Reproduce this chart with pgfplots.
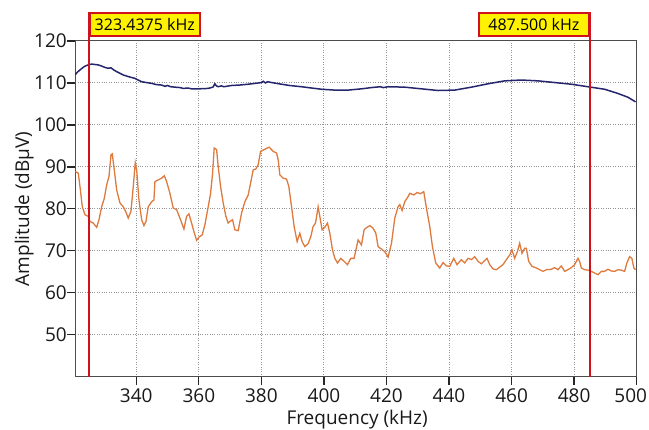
\documentclass[border=0pt]{standalone}
\usepackage{pgfplots}
\pgfplotsset{compat=1.18}
\usepackage{fontspec}
\setmainfont{Open Sans}
\definecolor{navy}{RGB}{38,38,110}
\definecolor{orng}{RGB}{222,122,62}
\definecolor{mkred}{RGB}{208,18,28}
\begin{document}
\begin{tikzpicture}
\useasboundingbox (-75.3pt,-53.3pt) rectangle (573.7pt,376.7pt);
\begin{axis}[
  at={(0,0)}, anchor=south west,
  scale only axis, width=561.4pt, height=335.7pt,
  xmin=320.5, xmax=500, ymin=40, ymax=120,
  xtick={340,360,...,500}, ytick={50,60,...,120},
  xticklabels={340,360,380,400,420,440,460,480,500\hspace*{12pt}},
  tick pos=left,
  grid=major,
  major grid style={dotted, black!42, line width=1pt},
  axis line style={black!70, line width=1pt},
  tick style={black!85, line width=1.3pt},
  tick align=outside, major tick length=8pt,
  /pgf/number format/assume math mode=true,
  ticklabel style={font=\fontsize{19}{22}\selectfont, text=black!90},
  yticklabel style={xshift=3pt},
  label style={font=\fontsize{19}{22}\selectfont, text=black!90},
  xlabel={Frequency (kHz)},
  ylabel={Amplitude (dBµV)},
  xlabel style={at={(axis description cs:0.502,-0.143)}, anchor=base},
  ylabel style={at={(axis description cs:-0.091,0.5)}, anchor=center},
  clip=false,
]
\addplot[navy, line width=1.5pt] coordinates {
(320.5,112.0) (321.2,112.6) (322.0,113.1) (323.0,113.7) (323.6,114.0) (324.6,114.3)
(325.74,114.5) (326.8,114.4) (327.85,114.3) (329.0,114.0) (329.99,113.7) (331.0,113.5)
(331.91,113.6) (332.8,113.1) (333.73,112.7) (335.84,111.9) (337.98,111.4) (339.57,111.1)
(340.3,110.8) (341.72,110.3) (343.2,110.1) (344.91,109.9) (346.5,109.6) (348.1,109.5)
(349.2,109.2) (350.0,109.4) (351.0,109.1) (352.35,109.0) (354.0,108.9) (355.0,108.7)
(356.5,108.8) (357.69,108.6) (360.0,108.6) (363.0,108.7) (364.5,109.0) (365.13,109.8)
(365.6,109.3) (366.19,109.1) (367.2,109.3) (368.0,109.1) (370.47,109.4) (373.0,109.5)
(375.77,109.7) (378.0,109.9) (380.06,110.1) (380.6,110.4) (381.3,110.0) (382.0,110.3)
(383.25,110.1) (386.45,109.7) (389.0,109.4) (392.83,109.1) (396.0,108.8) (399.23,108.5)
(403.47,108.3) (407.72,108.3) (412.0,108.6) (415.2,108.9) (418.0,109.1) (419.0,108.9)
(420.5,109.1) (425.84,109.0) (431.17,108.6) (436.48,108.2) (441.81,108.3) (447.15,109.0)
(452.45,109.8) (457.79,110.5) (463.12,110.7) (468.43,110.5) (473.76,110.1) (479.1,109.7)
(484.4,109.1) (489.74,108.5) (493.99,107.5) (497.18,106.6) (499.64,105.5)
};
\addplot[orng, line width=1.3pt] coordinates {
(320.5,88.9) (321.46,88.5) (322.0,85.3) (322.74,80.5) (323.6,78.6) (324.65,78.2)
(325.2,77.0) (326.25,76.6) (327.34,75.6) (328.07,77.4) (328.93,80.5) (329.77,82.5)
(330.53,85.7) (331.27,87.7) (331.91,92.9) (332.32,93.1) (332.96,89.3) (333.73,84.5)
(334.78,81.4) (335.84,80.5) (336.6,79.4) (337.43,77.8) (338.3,79.4) (339.03,85.3)
(339.67,91.0) (340.12,89.3) (340.85,82.1) (341.72,77.4) (342.45,76.0) (343.09,77.0)
(343.82,80.5) (344.91,81.7) (345.64,82.1) (345.96,86.5) (347.02,86.9) (348.1,87.3)
(348.94,87.9) (349.7,86.5) (350.76,83.7) (351.81,80.2) (352.9,79.8) (353.95,77.8)
(355.23,75.2) (356.09,78.2) (356.83,78.8) (357.69,76.6) (358.42,74.6) (359.29,72.5)
(360.12,73.3) (361.08,73.8) (361.94,76.2) (363.0,80.5) (363.76,83.7) (364.4,88.5)
(364.91,94.5) (365.68,94.1) (366.19,90.1) (366.96,85.3) (367.79,81.4) (368.65,78.2)
(369.38,76.6) (369.93,77.0) (370.79,77.4) (371.52,75.0) (372.58,74.8) (373.67,79.0)
(374.72,81.7) (375.77,83.3) (376.54,86.1) (377.37,89.3) (378.23,89.5) (378.97,90.5)
(379.74,93.7) (381.11,94.2) (382.48,94.7) (383.76,93.7) (384.85,93.3) (385.36,91.7)
(385.9,88.1) (386.96,87.3) (388.04,87.1) (388.78,85.3) (389.64,80.5) (390.47,75.8)
(391.43,72.2) (392.29,74.2) (393.03,72.2) (393.89,71.0) (394.94,71.7) (395.81,73.4)
(396.54,75.8) (397.31,76.6) (398.14,80.5) (398.68,78.2) (399.42,75.0) (400.28,75.6)
(401.14,76.6) (401.88,74.2) (402.74,70.2) (403.48,68.2) (404.34,67.1) (405.39,68.2)
(406.45,67.5) (407.53,66.7) (408.59,68.2) (409.64,68.2) (410.92,72.6) (412.0,71.4)
(412.84,75.0) (413.38,75.4) (414.66,76.0) (415.72,75.4) (416.58,74.2) (417.32,71.0)
(418.41,70.4) (419.46,69.8) (420.51,68.5) (421.6,71.8) (422.65,77.8) (423.7,80.5)
(424.25,81.0) (424.98,79.6) (425.84,81.7) (426.9,82.9) (427.44,83.7) (428.72,83.3)
(429.77,83.9) (430.86,83.6) (431.91,84.1) (432.77,80.2) (433.83,75.8) (434.69,71.0)
(435.74,67.1) (437.02,65.9) (438.08,67.2) (439.16,66.4) (440.22,66.3) (441.5,68.2)
(442.55,66.7) (443.95,67.9) (445.01,67.1) (446.06,68.2) (447.15,67.9) (448.21,68.6)
(449.26,67.5) (450.35,66.9) (451.4,67.7) (452.14,68.2) (453.0,66.7) (454.05,65.7)
(455.14,65.5) (456.19,66.1) (457.25,66.7) (458.33,67.9) (459.39,69.0) (460.12,70.2)
(460.99,68.2) (461.85,69.8) (462.58,71.8) (463.32,69.4) (464.18,70.6) (464.72,70.6)
(465.46,67.5) (466.51,66.3) (467.92,65.9) (468.97,65.5) (470.03,65.1) (471.11,65.5)
(472.71,65.6) (473.76,66.0) (474.82,65.5) (475.9,66.4) (476.96,65.1) (478.01,65.5)
(479.1,66.0) (480.15,66.7) (481.21,68.2) (481.75,67.5) (482.3,65.9) (483.35,65.5)
(484.4,65.4) (485.49,65.1) (486.54,64.7) (487.6,64.3) (488.69,65.1) (489.74,65.1)
(490.79,65.6) (491.88,65.2) (492.94,65.1) (493.99,65.5) (495.08,65.4) (496.13,65.1)
(496.86,67.1) (497.73,68.6) (498.46,68.2) (499.1,65.9) (499.64,65.5)
};
\addplot[mkred, line width=2pt] coordinates {(324.88,40) (324.88,126.9)};
\addplot[mkred, line width=2pt] coordinates {(484.96,40) (484.96,126.9)};
\node[fill=yellow, draw=mkred, line width=1.6pt, anchor=north west,
  minimum width=110pt, minimum height=23pt, inner sep=1pt,
  font=\fontsize{16}{18}\selectfont] at (axis cs:324.88,126.9) {323.4375 kHz};
\node[fill=yellow, draw=mkred, line width=1.6pt, anchor=north east,
  minimum width=110pt, minimum height=23pt, inner sep=1pt,
  font=\fontsize{16}{18}\selectfont] at (axis cs:484.96,126.9) {487.500 kHz};
\end{axis}
\end{tikzpicture}
\end{document}
